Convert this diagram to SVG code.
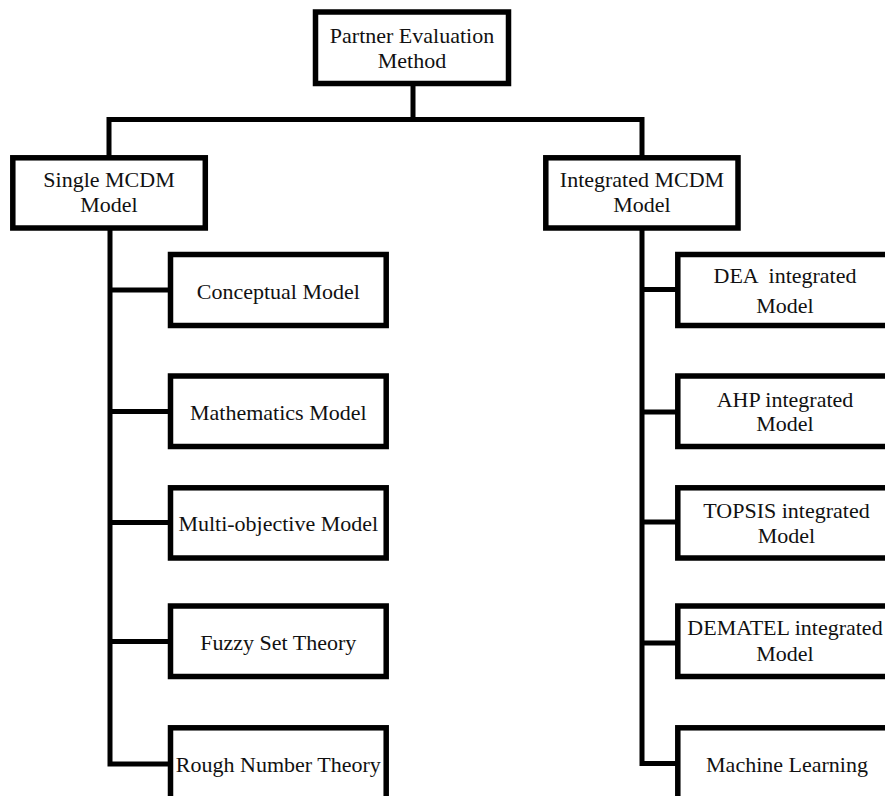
<svg xmlns="http://www.w3.org/2000/svg" width="885" height="796" viewBox="0 0 885 796">
<style>
.box{fill:#fff;stroke:#000;stroke-width:5.5}
.ln{fill:none;stroke:#000;stroke-width:5;stroke-linejoin:miter;stroke-linecap:butt}
text{font-family:"Liberation Serif","Times New Roman",serif;font-size:22px;fill:#111;text-anchor:middle}
</style>
<rect width="885" height="796" fill="#fff"/>
<g id="connectors">
<line class="ln" x1="413" y1="84" x2="413" y2="120"/>
<polyline class="ln" points="109,156 109,119.5 642,119.5 642,156"/>
<polyline class="ln" points="110,229 110,764 172,764"/>
<line class="ln" x1="110" y1="290" x2="172" y2="290"/>
<line class="ln" x1="110" y1="411.5" x2="172" y2="411.5"/>
<line class="ln" x1="110" y1="522.5" x2="172" y2="522.5"/>
<line class="ln" x1="110" y1="641.5" x2="172" y2="641.5"/>
<polyline class="ln" points="642,229 642,763.5 679,763.5"/>
<line class="ln" x1="642" y1="289.5" x2="679" y2="289.5"/>
<line class="ln" x1="642" y1="412" x2="679" y2="412"/>
<line class="ln" x1="642" y1="522" x2="679" y2="522"/>
<line class="ln" x1="642" y1="643" x2="679" y2="643"/>
</g>
<g id="root">
<rect class="box" x="315.5" y="12" width="193" height="71.5"/>
<text x="412" y="42.7">Partner Evaluation</text>
<text x="412" y="68">Method</text>
</g>
<g id="single">
<rect class="box" x="12.8" y="157.8" width="192.5" height="70.2"/>
<text x="109" y="187">Single MCDM</text>
<text x="109" y="211.7">Model</text>
</g>
<g id="integrated">
<rect class="box" x="545.8" y="157.8" width="192.2" height="70.2"/>
<text x="642" y="187">Integrated MCDM</text>
<text x="642" y="211.7">Model</text>
</g>
<g id="conceptual">
<rect class="box" x="170.5" y="254.5" width="215.7" height="71"/>
<text x="278.3" y="299">Conceptual Model</text>
</g>
<g id="mathematics">
<rect class="box" x="170.5" y="376" width="215.7" height="70.5"/>
<text x="278.3" y="420">Mathematics Model</text>
</g>
<g id="multiobjective">
<rect class="box" x="170.5" y="487.8" width="215.7" height="70.2"/>
<text x="278.3" y="530.7">Multi-objective Model</text>
</g>
<g id="fuzzy">
<rect class="box" x="170.5" y="606" width="215.7" height="70.5"/>
<text x="278.3" y="650">Fuzzy Set Theory</text>
</g>
<g id="rough">
<rect class="box" x="170.5" y="727.8" width="215.7" height="71"/>
<text x="278.3" y="771.7">Rough Number Theory</text>
</g>
<g id="dea">
<rect class="box" x="677.8" y="254.5" width="216" height="71"/>
<text x="785" y="282.7" xml:space="preserve">DEA  integrated</text>
<text x="785" y="313.3">Model</text>
</g>
<g id="ahp">
<rect class="box" x="677.8" y="376" width="216" height="70.5"/>
<text x="785" y="406.7">AHP integrated</text>
<text x="785" y="431">Model</text>
</g>
<g id="topsis">
<rect class="box" x="677.8" y="487.8" width="216" height="70.2"/>
<text x="786.5" y="518.3">TOPSIS integrated</text>
<text x="786.5" y="543.3">Model</text>
</g>
<g id="dematel">
<rect class="box" x="677.8" y="606" width="216" height="70.5"/>
<text x="785" y="635">DEMATEL integrated</text>
<text x="785" y="661">Model</text>
</g>
<g id="ml">
<rect class="box" x="677.8" y="727.8" width="216" height="71"/>
<text x="787" y="771.7">Machine Learning</text>
</g>
</svg>
